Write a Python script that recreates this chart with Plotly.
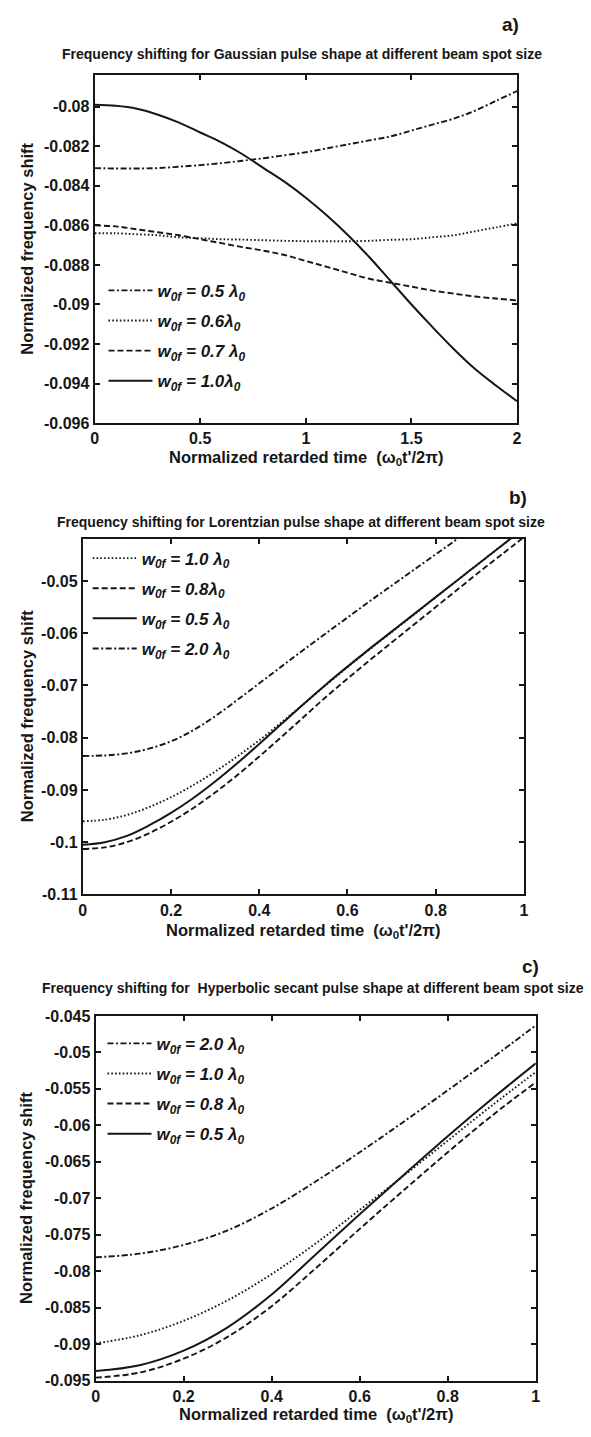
import plotly.graph_objects as go

W, H = 591, 1437

# ---------------- data ----------------
# Panel a (Gaussian)
xa = [0, 0.1, 0.2, 0.3, 0.4, 0.5, 0.6, 0.7, 0.8, 0.9, 1.0, 1.1, 1.2, 1.3, 1.4, 1.5, 1.6, 1.7, 1.8, 1.9, 2.0]
a_w05 = [-0.0831, -0.08312, -0.08312, -0.0831, -0.08303, -0.08295, -0.08285, -0.08273, -0.0826, -0.08245,
         -0.0823, -0.0821, -0.0819, -0.0817, -0.0815, -0.0812, -0.0809, -0.0806, -0.0802, -0.0797, -0.0792]
a_w06 = [-0.0864, -0.0864, -0.08645, -0.0865, -0.0866, -0.08665, -0.0867, -0.08672, -0.08675, -0.08678,
         -0.0868, -0.0868, -0.0868, -0.08678, -0.08673, -0.0867, -0.0866, -0.0865, -0.0863, -0.0861, -0.0859]
a_w07 = [-0.0860, -0.08605, -0.0862, -0.08635, -0.0865, -0.0867, -0.0869, -0.0871, -0.08728, -0.0875,
         -0.0878, -0.0881, -0.0884, -0.0887, -0.0889, -0.0891, -0.0893, -0.08945, -0.0896, -0.0897, -0.0898]
a_w10 = [-0.0799, -0.07995, -0.0801, -0.0804, -0.0808, -0.0813, -0.0818, -0.0824, -0.0831, -0.0838,
         -0.0846, -0.0855, -0.0865, -0.0876, -0.0888, -0.0900, -0.09115, -0.09225, -0.09325, -0.0941, -0.0949]

# Panel b (Lorentzian)
xb = [0, 0.05, 0.1, 0.15, 0.2, 0.25, 0.3, 0.35, 0.4, 0.45, 0.5, 0.55, 0.6, 0.65, 0.7, 0.75, 0.8, 0.85, 0.9, 0.95, 1.0]
b_w10 = [-0.0960, -0.0957, -0.0948, -0.0933, -0.0914, -0.0891, -0.0865, -0.0836, -0.0805, -0.0771, -0.0736,
         -0.0700, -0.0665, -0.0631, -0.0598, -0.0565, -0.0531, -0.0498, -0.0465, -0.0432, -0.0399]
b_w08 = [-0.1013, -0.1010, -0.1000, -0.0983, -0.0961, -0.0935, -0.0905, -0.0872, -0.0836, -0.0799, -0.0761,
         -0.0723, -0.0687, -0.0652, -0.0618, -0.0584, -0.0550, -0.0516, -0.0482, -0.0449, -0.0416]
b_w05 = [-0.1005, -0.1000, -0.0988, -0.0968, -0.0944, -0.0916, -0.0884, -0.0849, -0.0812, -0.0774, -0.0736,
         -0.0699, -0.0664, -0.0630, -0.0597, -0.0564, -0.0531, -0.0498, -0.0465, -0.0432, -0.0399]
b_w20 = [-0.0835, -0.0834, -0.0830, -0.0821, -0.0807, -0.0786, -0.0759, -0.0728, -0.0696, -0.0664, -0.0632,
         -0.0601, -0.0570, -0.0539, -0.0509, -0.0479, -0.0449, -0.0419, -0.0389, -0.0359, -0.0329]

# Panel c (Hyperbolic secant)
xc = [0, 0.1, 0.2, 0.3, 0.4, 0.5, 0.6, 0.7, 0.8, 0.9, 1.0]
c_w20 = [-0.0781, -0.0776, -0.0764, -0.0744, -0.0714, -0.0677, -0.0637, -0.0595, -0.0552, -0.0508, -0.0463]
c_w10 = [-0.0899, -0.0888, -0.0868, -0.0840, -0.0804, -0.0762, -0.0716, -0.0669, -0.0621, -0.0573, -0.0527]
c_w08 = [-0.0946, -0.0939, -0.0920, -0.0890, -0.0848, -0.0796, -0.0742, -0.0689, -0.0637, -0.0587, -0.0541]
c_w05 = [-0.0937, -0.0929, -0.0909, -0.0877, -0.0832, -0.0777, -0.0722, -0.0668, -0.0615, -0.0564, -0.0515]

# tick labels
a_xticks = [0, 0.5, 1, 1.5, 2]
a_xtext = ["0", "0.5", "1", "1.5", "2"]
a_yticks = [-0.08, -0.082, -0.084, -0.086, -0.088, -0.09, -0.092, -0.094, -0.096]
a_ytext = ["-0.08", "-0.082", "-0.084", "-0.086", "-0.088", "-0.09", "-0.092", "-0.094", "-0.096"]
bc_xticks = [0, 0.2, 0.4, 0.6, 0.8, 1]
bc_xtext = ["0", "0.2", "0.4", "0.6", "0.8", "1"]
b_yticks = [-0.05, -0.06, -0.07, -0.08, -0.09, -0.1, -0.11]
b_ytext = ["-0.05", "-0.06", "-0.07", "-0.08", "-0.09", "-0.1", "-0.11"]
c_yticks = [-0.045, -0.05, -0.055, -0.06, -0.065, -0.07, -0.075, -0.08, -0.085, -0.09, -0.095]
c_ytext = ["-0.045", "-0.05", "-0.055", "-0.06", "-0.065", "-0.07", "-0.075", "-0.08", "-0.085", "-0.09", "-0.095"]

titles = ["Frequency shifting for Gaussian pulse shape at different beam spot size",
          "Frequency shifting for Lorentzian pulse shape at different beam spot size",
          "Frequency shifting for  Hyperbolic secant pulse shape at different beam spot size"]
panel_tags = ["a)", "b)", "c)"]
ytitle = "Normalized frequency shift"
xtitle = "Normalized retarded time  (\u03c9<sub>0</sub>t'/2\u03c0)"

# ---------------- styles ----------------
INK = "#161616"
DASH = {"solid": "solid", "dot": "1.6px,2.2px", "dash": "6px,3px", "dashdot": "6px,2.5px,2px,2.5px"}
FONT = "Liberation Sans, Arial, Helvetica, sans-serif"


def lab(v, sp=True):
    return "<b><i>w<sub>0f</sub> = " + v + (" " if sp else "") + "\u03bb<sub>0</sub></i></b>"


def px_x(p):
    return p / W


def px_y(p):
    return 1 - p / H


fig = go.Figure()

panels = [
    ("x", "legend", xa, [(a_w05, "dashdot", lab("0.5")), (a_w06, "dot", lab("0.6", False)),
                         (a_w07, "dash", lab("0.7")), (a_w10, "solid", lab("1.0", False))]),
    ("x2", "legend2", xb, [(b_w10, "dot", lab("1.0")), (b_w08, "dash", lab("0.8", False)),
                           (b_w05, "solid", lab("0.5")), (b_w20, "dashdot", lab("2.0"))]),
    ("x3", "legend3", xc, [(c_w20, "dashdot", lab("2.0")), (c_w10, "dot", lab("1.0")),
                           (c_w08, "dash", lab("0.8")), (c_w05, "solid", lab("0.5"))]),
]

for pi, (xid, lid, xs, series) in enumerate(panels):
    yid = "y" + xid[1:]
    for k, (ys, d, name) in enumerate(series):
        fig.add_trace(go.Scatter(
            x=xs, y=ys, mode="lines", name=name, xaxis=xid, yaxis=yid, legend=lid,
            legendgroup=f"g{pi}{k}",
            line=dict(color=INK, width=1.9 if d != "solid" else 2.0, dash=DASH[d], shape="spline", smoothing=1.0),
            showlegend=True,
        ))

# geometry (pixels)
geo = [
    dict(l=92, r=521, t=68, b=420, xr=[0, 2], yr=[-0.096, -0.0784], xt=a_xticks, xtt=a_xtext, yt=a_yticks, ytt=a_ytext,
         title_y=47, title_x=303, tag=(514, 17), xtitle_y=455, leg=(101, 268)),
    dict(l=80, r=528, t=537, b=897, xr=[0, 1], yr=[-0.11, -0.0419], xt=bc_xticks, xtt=bc_xtext, yt=b_yticks, ytt=b_ytext,
         title_y=520, title_x=302, tag=(522, 495), xtitle_y=934, leg=(85, 539)),
    dict(l=93, r=540, t=1020, b=1389, xr=[0, 1], yr=[-0.095, -0.045], xt=bc_xticks, xtt=bc_xtext, yt=c_yticks, ytt=c_ytext,
         title_y=992, title_x=314, tag=(535, 970), xtitle_y=1424, leg=(100, 1030)),
]

layout = dict(
    width=W, height=H, margin=dict(l=0, r=0, t=0, b=0),
    paper_bgcolor="white", plot_bgcolor="white",
    font=dict(family=FONT, color=INK),
    showlegend=True, annotations=[],
)

axis_common = dict(
    showline=True, linecolor=INK, linewidth=2, mirror="ticks", ticks="inside", ticklen=5, tickwidth=1.5,
    tickcolor=INK, showgrid=False, zeroline=False, tickmode="array",
    tickfont=dict(family=FONT, size=16, color=INK, weight="bold"),
)

for i, g in enumerate(geo):
    sfx = "" if i == 0 else str(i + 1)
    layout["xaxis" + sfx] = dict(axis_common, domain=[px_x(g["l"]), px_x(g["r"])], range=g["xr"],
                                 tickvals=g["xt"], ticktext=g["xtt"], anchor="y" + sfx)
    layout["yaxis" + sfx] = dict(axis_common, domain=[px_y(g["b"]), px_y(g["t"])], range=g["yr"],
                                 tickvals=g["yt"], ticktext=g["ytt"], anchor="x" + sfx)
    layout["legend" + sfx] = dict(
        x=px_x(g["leg"][0]), y=px_y(g["leg"][1]), xanchor="left", yanchor="top",
        bgcolor="rgba(0,0,0,0)", borderwidth=0, itemwidth=44, tracegroupgap=5,
        font=dict(family=FONT, size=17, color=INK), traceorder="grouped",
    )
    cy = (g["t"] + g["b"]) / 2
    cx = (g["l"] + g["r"]) / 2
    layout["annotations"] += [
        dict(text="<b>" + titles[i] + "</b>", x=px_x(g["title_x"]), y=px_y(g["title_y"]), xref="paper", yref="paper",
             showarrow=False, xanchor="center", yanchor="middle", font=dict(size=14, family=FONT, color=INK)),
        dict(text="<b>" + panel_tags[i] + "</b>", x=px_x(g["tag"][0]), y=px_y(g["tag"][1]), xref="paper", yref="paper",
             showarrow=False, xanchor="center", yanchor="middle", font=dict(size=19, family=FONT, color=INK)),
        dict(text="<b>" + ytitle + "</b>", x=px_x(23), y=px_y(cy), xref="paper", yref="paper", textangle=-90,
             showarrow=False, xanchor="center", yanchor="middle", font=dict(size=16.5, family=FONT, color=INK)),
        dict(text="<b>" + xtitle + "</b>", x=px_x(cx), y=px_y(g["xtitle_y"]), xref="paper", yref="paper",
             showarrow=False, xanchor="center", yanchor="middle", font=dict(size=16.5, family=FONT, color=INK)),
    ]

fig.update_layout(**layout)
fig.write_html("out.html")
